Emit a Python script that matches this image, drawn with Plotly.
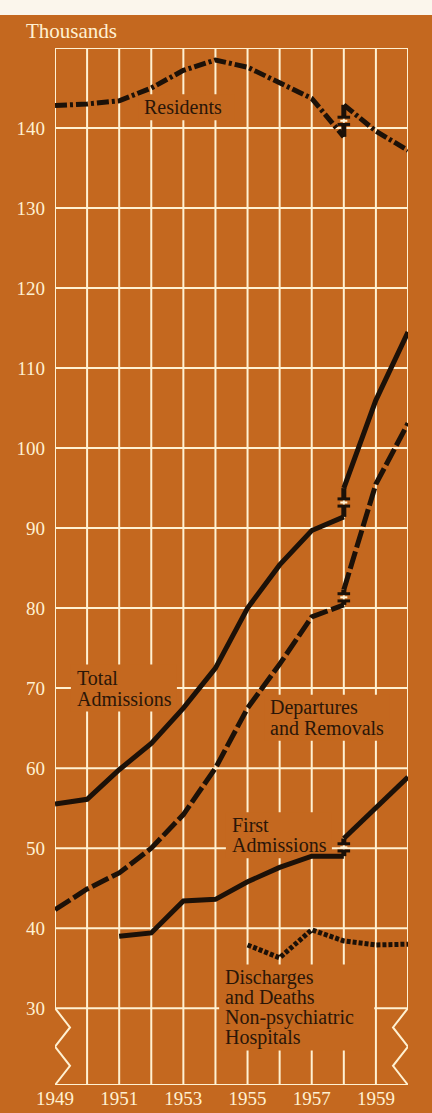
import plotly.graph_objects as go

# --------------------------------------------
# Data (thousands of patients, state mental hospitals)
# --------------------------------------------
years = list(range(1949, 1961))
years_old = list(range(1949, 1959))
years_new = [1958, 1959, 1960]

residents_old = [142.8, 143.0, 143.4, 145.0, 147.2, 148.5, 147.6, 145.6, 143.7, 138.9]
residents_new = [142.9, 139.6, 137.2]

total_adm_old = [55.5, 56.1, 59.8, 63.1, 67.5, 72.5, 80.0, 85.4, 89.7, 91.4]
total_adm_new = [95.0, 106.0, 114.5]

departures_old = [42.3, 44.9, 46.9, 50.0, 54.2, 60.0, 67.5, 73.0, 78.9, 80.4]
departures_new = [82.3, 95.5, 103.1]

first_years_old = list(range(1951, 1959))
first_adm_old = [39.0, 39.4, 43.4, 43.6, 45.8, 47.6, 49.0, 49.0]
first_adm_new = [51.2, 55.1, 58.9]

discharge_years = list(range(1955, 1961))
discharges = [37.9, 36.3, 39.8, 38.4, 37.9, 38.0]

y_ticks = list(range(30, 150, 10))
x_ticks = [1949, 1951, 1953, 1955, 1957, 1959]

# --------------------------------------------
# Style
# --------------------------------------------
ORANGE = "#C4681F"
CREAM = "#FFF1D2"
INK = "#1C1108"
TEXT = "#2A1608"
FONT = "Liberation Serif"

Y_TOP = 150
Y_BOT = 20.4
W, H = 432, 1113
M_L, M_R, M_T, M_B = 55, 24, 48, 28
PX_YEAR = (W - M_L - M_R) / (years[-1] - years[0])
PX_UNIT = (H - M_T - M_B) / (Y_TOP - Y_BOT)

fig = go.Figure()


def add_series(x, y, dash, width=5):
    fig.add_trace(go.Scatter(
        x=x, y=y, mode="lines",
        line=dict(color=INK, width=width, dash=dash),
        hoverinfo="skip", showlegend=False,
    ))


def add_break(y_old, y_new, year=1958):
    # series change: short vertical link with a gap and caps
    mid = (y_old + y_new) / 2
    gap = 0.45
    fig.add_trace(go.Scatter(
        x=[year, year, None, year, year],
        y=[y_old, mid - gap, None, mid + gap, y_new],
        mode="lines", line=dict(color=INK, width=5),
        hoverinfo="skip", showlegend=False,
    ))
    fig.add_trace(go.Scatter(
        x=[year, year], y=[mid - gap, mid + gap], mode="markers",
        marker=dict(symbol="line-ew", size=9, line=dict(color=INK, width=3)),
        hoverinfo="skip", showlegend=False,
    ))
    fig.add_trace(go.Scatter(
        x=[year], y=[mid], mode="markers",
        marker=dict(symbol="line-ew", size=5, line=dict(color=CREAM, width=2)),
        hoverinfo="skip", showlegend=False,
    ))


res_dash = "12px,3px,3px,3px"
dep_dash = "18px,4px"

add_series(years_old, residents_old, res_dash)
add_series(years_new, residents_new, res_dash)
add_break(residents_old[-1], residents_new[0])

add_series(years_old, total_adm_old, "solid")
add_series(years_new, total_adm_new, "solid")
add_break(total_adm_old[-1], total_adm_new[0])

add_series(years_old, departures_old, dep_dash)
add_series(years_new, departures_new, dep_dash)
add_break(departures_old[-1], departures_new[0])

add_series(first_years_old, first_adm_old, "solid")
add_series(years_new, first_adm_new, "solid")
add_break(first_adm_old[-1], first_adm_new[0])

add_series(discharge_years, discharges, "4px,2px", width=5)

# --------------------------------------------
# Grid drawn as shapes (edges zig-zag below 30)
# --------------------------------------------
shapes = []
grid = dict(color=CREAM, width=2)
for yv in y_ticks + [Y_TOP, Y_BOT]:
    shapes.append(dict(type="line", xref="x", yref="y", x0=years[0], x1=years[-1],
                       y0=yv, y1=yv, line=grid, layer="below"))
for yr in years:
    y0 = y_ticks[0] if yr in (years[0], years[-1]) else Y_BOT
    shapes.append(dict(type="line", xref="x", yref="y", x0=yr, x1=yr,
                       y0=y0, y1=Y_TOP, line=grid, layer="below"))

# zig-zag break symbol on both edges
n = 5
zy = [y_ticks[0] - i * (y_ticks[0] - Y_BOT) / (n - 1) for i in range(n)]
zw = 15 / PX_YEAR
left = " L".join(f"{years[0] + (zw if i % 2 else 0)},{v}" for i, v in enumerate(zy))
right = " L".join(f"{years[-1] - (zw if i % 2 else 0)},{v}" for i, v in enumerate(zy))
shapes.append(dict(type="path", xref="x", yref="y", path="M" + left, line=grid, layer="below"))
shapes.append(dict(type="path", xref="x", yref="y", path="M" + right, line=grid, layer="below"))

# cream page strip across the top
shapes.append(dict(type="rect", xref="paper", yref="paper",
                   x0=-M_L / (W - M_L - M_R), x1=1 + M_R / (W - M_L - M_R),
                   y0=1 + (M_T - 15) / (H - M_T - M_B), y1=1 + M_T / (H - M_T - M_B),
                   fillcolor="#FBF6EC", line=dict(width=0), layer="below"))

# --------------------------------------------
# Labels (grid is cut out behind them)
# --------------------------------------------
annotations = []
LABEL_SIZE = 20


def label(lines, x, y_center, step_px):
    k = len(lines)
    step = step_px / PX_UNIT
    for i, t in enumerate(lines):
        yy = y_center + ((k - 1) / 2 - i) * step
        annotations.append(dict(
            x=x, y=yy, xref="x", yref="y", text=t, showarrow=False,
            xanchor="left", yanchor="middle",
            font=dict(family=FONT, size=LABEL_SIZE, color=TEXT),
        ))
    width_px = max(len(t) for t in lines) * 0.49 * LABEL_SIZE
    half_h = ((k - 1) / 2 * step_px + 13) / PX_UNIT
    shapes.append(dict(type="rect", xref="x", yref="y",
                       x0=x - 4 / PX_YEAR, x1=x + (width_px + 4) / PX_YEAR,
                       y0=y_center - half_h, y1=y_center + half_h,
                       fillcolor=ORANGE, line=dict(width=0), layer="below"))


label(["Residents"], 1951.72, 142.6, 20)
label(["Total", "Admissions"], 1949.62, 70.0, 21)
label(["Departures", "and Removals"], 1955.64, 66.3, 20)
label(["First", "Admissions"], 1954.45, 51.6, 20)
label(["Discharges", "and Deaths", "Non-psychiatric", "Hospitals"], 1954.24, 30.1, 20)

annotations.append(dict(
    x=-31 / (W - M_L - M_R), y=1 + 17 / (H - M_T - M_B), xref="paper", yref="paper",
    text="Thousands", showarrow=False, xanchor="left", yanchor="middle",
    font=dict(family=FONT, size=21, color=CREAM),
))

fig.update_layout(
    width=W, height=H,
    margin=dict(l=M_L, r=M_R, t=M_T, b=M_B),
    paper_bgcolor=ORANGE, plot_bgcolor=ORANGE,
    shapes=shapes, annotations=annotations,
    showlegend=False,
    xaxis=dict(
        range=[years[0], years[-1]], tickvals=x_ticks, ticktext=[str(v) for v in x_ticks],
        showgrid=False, zeroline=False, showline=False, ticks="", automargin=False,
        tickfont=dict(family=FONT, size=19, color=CREAM), ticklabelstandoff=0,
    ),
    yaxis=dict(
        range=[Y_BOT, Y_TOP], tickvals=y_ticks, ticktext=[str(v) for v in y_ticks],
        showgrid=False, zeroline=False, showline=False, ticks="", automargin=False,
        tickfont=dict(family=FONT, size=19, color=CREAM), ticklabelstandoff=9,
    ),
)

# drop the browser's default page margin so the figure sits at the top-left corner
fig.write_html("out.html", config={"displayModeBar": False},
               post_script="document.body.style.margin='0';")
